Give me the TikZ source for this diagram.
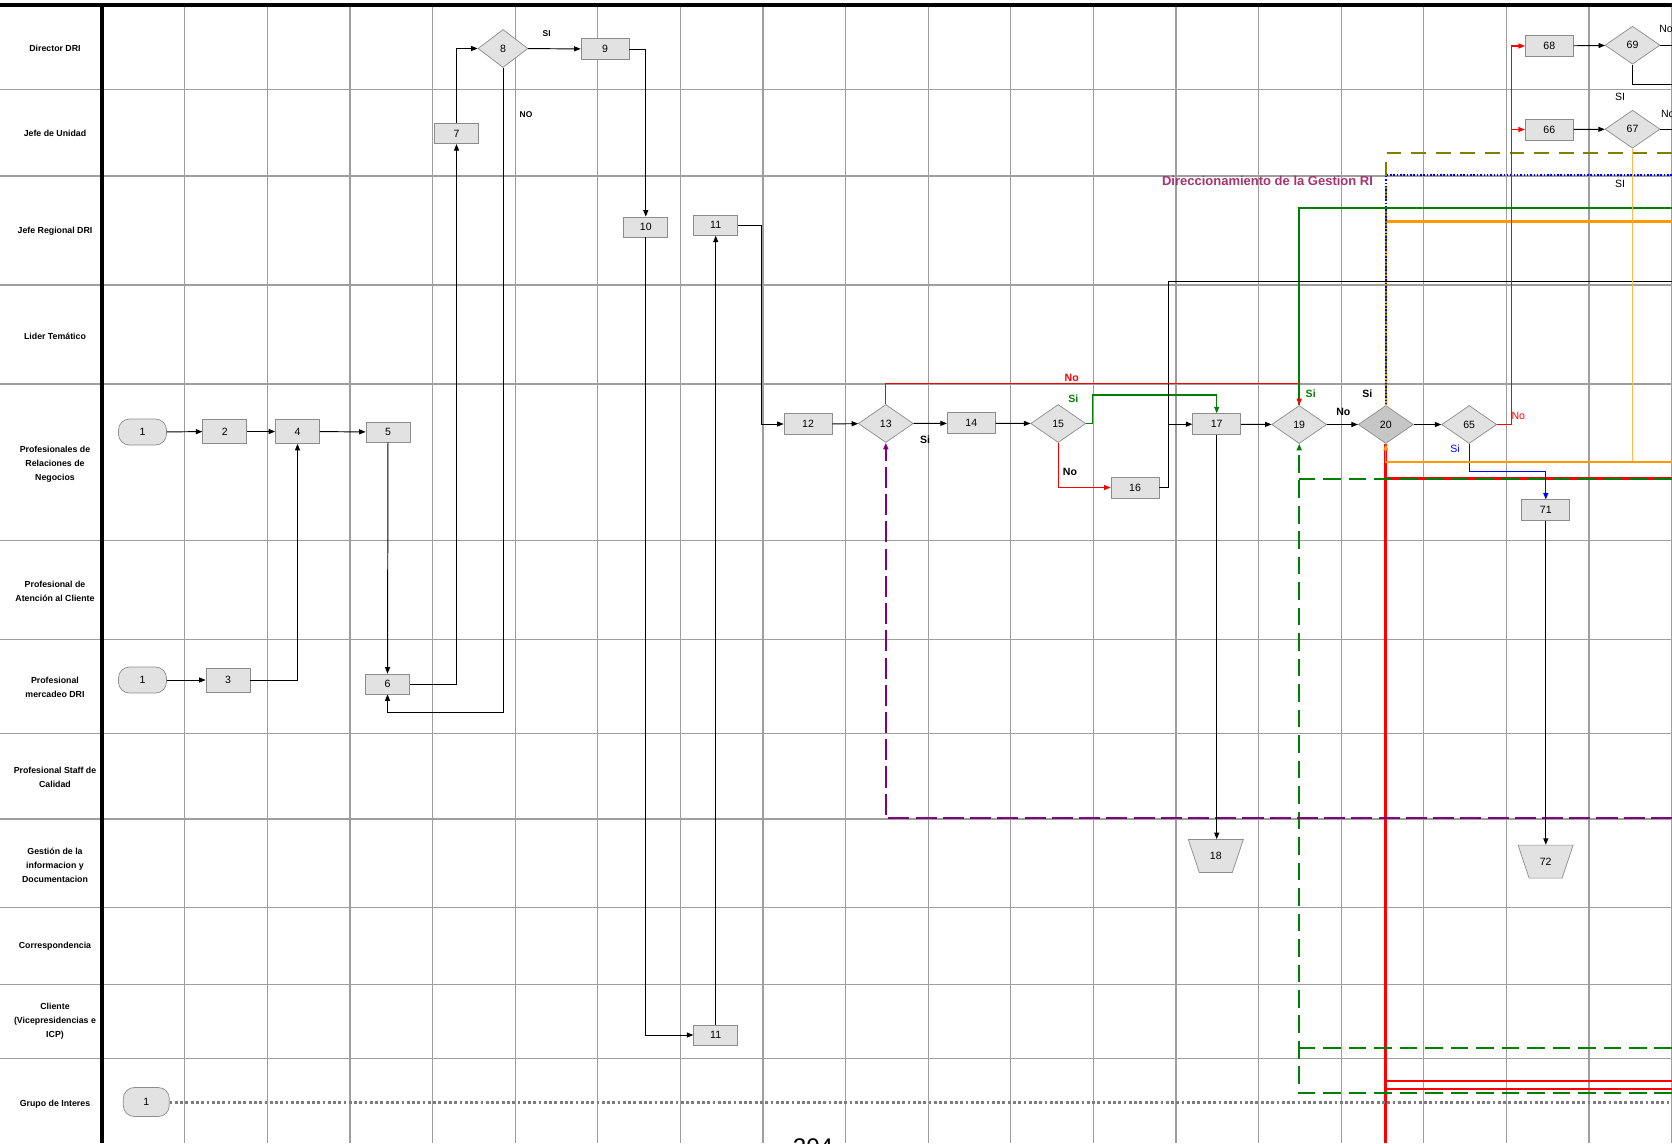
\documentclass[tikz,border=0pt]{standalone}
\usepackage{fontspec}
\setmainfont{Liberation Sans}
\usetikzlibrary{arrows.meta,shapes.geometric,calc}
\definecolor{cajagris}{RGB}{226,226,226}
\definecolor{bordegris}{RGB}{140,140,140}
\definecolor{grisrejilla}{RGB}{158,158,158}
\definecolor{decisionoscura}{RGB}{198,198,198}
\definecolor{tituloRI}{RGB}{168,50,110}
\definecolor{oliva}{RGB}{128,128,0}
\definecolor{naranja}{RGB}{255,153,0}
\definecolor{naranjaclaro}{RGB}{255,184,77}
\definecolor{verdeflujo}{RGB}{0,128,0}
\definecolor{morado}{RGB}{128,0,128}
\definecolor{grispuntos}{RGB}{125,125,125}
\tikzset{carril/.style={font=\fontsize{5}{7.9}\selectfont\bfseries,align=center,inner sep=0pt},
  caja/.style={rectangle,draw=bordegris,fill=cajagris,minimum width=0.88cm,minimum height=0.4cm,inner sep=0pt,font=\fontsize{6}{7}\selectfont},
  cajaancha/.style={caja,minimum width=0.96cm,minimum height=0.42cm},
  decision/.style={diamond,draw=bordegris,fill=cajagris,minimum width=1.1cm,minimum height=0.76cm,inner sep=0pt,font=\fontsize{6}{7}\selectfont},
  inicio/.style={rectangle,rounded corners=0.22cm,draw=bordegris,fill=cajagris,minimum width=0.96cm,minimum height=0.52cm,inner sep=0pt,font=\fontsize{6}{7}\selectfont},
  archivo/.style={rectangle,minimum width=1.1cm,minimum height=0.66cm,inner sep=0pt,font=\fontsize{6}{7}\selectfont},
  archivoforma/.style={draw=bordegris,fill=cajagris},
  rejilla/.style={draw=grisrejilla,line width=0.7pt},
  punta/.style={-{Triangle[length=1.3mm,width=1mm]}},
  flujo/.style={draw=black,line width=0.55pt,punta},
  rojofino/.style={draw=red,line width=0.6pt,punta},
  verdefino/.style={draw=verdeflujo,line width=0.6pt,punta},
  azulfino/.style={draw=blue,line width=0.6pt,punta},
  naranjafino/.style={draw=naranjaclaro,line width=0.6pt},
  rojogrueso/.style={draw=red,line width=1.7pt},
  verdegrueso/.style={draw=verdeflujo,line width=1.2pt},
  naranjagrueso/.style={draw=naranja,line width=1.5pt},
  olivaguion/.style={draw=oliva,line width=1.2pt,dash pattern=on 8.5pt off 5.5pt},
  azulpuntos/.style={draw=blue,line width=0.8pt,dash pattern=on 0.9pt off 1pt},
  verdeguion/.style={draw=verdeflujo,line width=1.3pt,dash pattern=on 10pt off 4.5pt},
  moradoguion/.style={draw=morado,line width=1.2pt,dash pattern=on 12pt off 3.5pt},
  grupopuntos/.style={draw=grispuntos,line width=1.7pt,dash pattern=on 1.6pt off 1.4pt},
  etiq/.style={font=\fontsize{6}{7}\selectfont\bfseries,inner sep=0pt},
  etiqp/.style={font=\fontsize{4.8}{6}\selectfont\bfseries,inner sep=0pt},
  etiqn/.style={font=\fontsize{6}{7}\selectfont,inner sep=0pt}}

\begin{document}
\begin{tikzpicture}[x=0.02cm,y=-0.02cm]
\useasboundingbox (0,0) rectangle (1672,1143);

% carriles y columnas
\foreach \k in {1,...,19}
  \draw[rejilla] ({102.2+82.6*\k},5) -- ({102.2+82.6*\k},1143);
\foreach \y in {89.6,176,285,384,540.6,639.8,733.6,818.9,907.4,984.2,1058.8}
  \draw[rejilla] (0,\y) -- (1672,\y);
\draw[line width=2pt] (0,5) -- (1672,5);
\draw[line width=2.2pt] (102,5) -- (102,1143);

\node[carril] (lDir) at (55,48) {Director DRI};
\node[carril] (lJefe) at (55,133) {Jefe de Unidad};
\node[carril] (lReg) at (55,231) {Jefe Regional DRI};
\node[carril] (lLider) at (55,336) {Lider Temático};
\node[carril] (lProf) at (55,464) {Profesionales de\\Relaciones de\\Negocios};
\node[carril] (lAten) at (55,591) {Profesional de\\Atención al Cliente};
\node[carril] (lMerc) at (55,687) {Profesional\\mercadeo DRI};
\node[carril] (lStaff) at (55,777) {Profesional Staff de\\Calidad};
\node[carril] (lGest) at (55,865) {Gestión de la\\informacion  y\\Documentacion};
\node[carril] (lCorr) at (55,946) {Correspondencia};
\node[carril] (lCli) at (55,1021) {Cliente\\(Vicepresidencias  e\\ICP)};
\node[carril] (lGrupo) at (55,1104) {Grupo de Interes};

% puntos libres en el borde
\coordinate (bLT) at (1672,281.7);
\coordinate (b69a) at (1672,45.2);
\coordinate (b69b) at (1672,84.3);
\coordinate (b67) at (1672,129.2);
\coordinate (bNar) at (1672,462);
\coordinate (bOl) at (1672,152.7);
\coordinate (bAz) at (1672,175);
\coordinate (bVe) at (1672,208.3);
\coordinate (bNa) at (1672,221.7);
\coordinate (bG1) at (1672,478.7);
\coordinate (bG2) at (1672,1048.3);
\coordinate (bG3) at (1672,1093.3);
\coordinate (bR2) at (1672,1081);
\coordinate (bR3) at (1672,1089.3);
\coordinate (bMo) at (1672,818.3);
\coordinate (bGr) at (1672,1102);
\coordinate (c18) at (1215.8,856);
\coordinate (c72) at (1545.6,861.6);

% actividades
\node[inicio] (i1) at (142.5,432) {1};
\node[inicio] (i2) at (142.5,680) {1};
\node[inicio,minimum width=0.92cm,minimum height=0.58cm] (i3) at (146.3,1102) {1};
\node[caja,minimum height=0.48cm] (n2) at (224.7,431.5) {2};
\node[caja,minimum height=0.48cm] (n3) at (228,680) {3};
\node[caja,minimum height=0.48cm] (n4) at (297.5,431.5) {4};
\node[caja] (n5) at (388,432) {5};
\node[caja] (n6) at (387.5,684) {6};
\node[caja] (n7) at (456.5,133.7) {7};
\node[decision,minimum width=1cm] (n8) at (503,48.5) {8};
\node[cajaancha] (n9) at (605,49) {9};
\node[caja] (n10) at (645.8,227) {10};
\node[caja] (n11) at (715.7,225.3) {11};
\node[caja] (n11b) at (715.7,1035) {11};
\node[cajaancha] (n12) at (808,424) {12};
\node[decision] (n13) at (885.8,423.5) {13};
\node[cajaancha] (n14) at (971.3,423.3) {14};
\node[decision] (n15) at (1058.2,423.5) {15};
\node[cajaancha] (n16) at (1135,487.5) {16};
\node[cajaancha] (n17) at (1216.7,424.2) {17};
\filldraw[archivoforma] ($(c18)+(-27.5,-16.5)$) -- ($(c18)+(27.5,-16.5)$) -- ($(c18)+(16.5,16.5)$) -- ($(c18)+(-16.5,16.5)$) -- cycle;
\node[archivo] (n18) at (c18) {18};
\node[decision] (n19) at (1299.2,424.5) {19};
\node[decision,fill=decisionoscura] (n20) at (1385.8,424.5) {20};
\node[decision] (n65) at (1469.2,424.5) {65};
\node[cajaancha] (n66) at (1549.3,129.5) {66};
\node[decision] (n67) at (1632.5,129.2) {67};
\node[cajaancha] (n68) at (1549.3,46) {68};
\node[decision] (n69) at (1632.5,45.2) {69};
\node[cajaancha] (n71) at (1545.8,510.3) {71};
\filldraw[archivoforma] ($(c72)+(-27.5,-16.5)$) -- ($(c72)+(27.5,-16.5)$) -- ($(c72)+(16.5,16.5)$) -- ($(c72)+(-16.5,16.5)$) -- cycle;
\node[archivo] (n72) at (c72) {72};

% lineas gruesas de la gestion RI
\draw[rojogrueso] (n20.south) -- (n20.south |- 0,1143);
\draw[rojogrueso] (n20.south |- bG1) -- (bG1);
\draw[rojogrueso,line width=1.3pt] (n20.south |- bR2) -- (bR2);
\draw[rojogrueso,line width=1.3pt] (n20.south |- bR3) -- (bR3);
\draw[verdeguion,punta] (bG3) -| (n19.south);
\draw[verdeguion] (bG1) -- (bG1 -| n19.south);
\draw[verdeguion] (bG2) -- (bG2 -| n19.south);
\draw[naranjagrueso] (bNa) -| (n20.north);
\draw[olivaguion] (bOl) -| (n20.north);
\draw[azulpuntos] (bAz) -| (n20.north);
\draw[verdegrueso] (bVe) -| (n19.north);
\draw[moradoguion,punta] (bMo) -| (n13.south);
\draw[grupopuntos] (i3) -- (bGr);

% conectores
\draw[flujo] (i1) -- (n2);
\draw[flujo] (n2) -- (n4);
\draw[flujo] (n4) -- (n5);
\draw[flujo] (i2) -- (n3);
\draw[flujo] (n3) -| (n4);
\draw[flujo] (n5) -- (n6);
\draw[flujo] (n6) -| (n7);
\draw[flujo] (n7) |- (n8);
\draw[flujo] (n8) -- (n9);
\draw[flujo] (n8.south) -- (n8.south |- 0,712) -| (n6.south);
\draw[flujo] (n9) -| (n10);
\draw[flujo] (n10) |- (n11b);
\draw[flujo] (n11b) -- (n11);
\draw[flujo] (n11.east) -- ++(23.7,0) |- (n12);
\draw[flujo] (n12) -- (n13);
\draw[flujo] (n13) -- (n14);
\draw[flujo] (n14) -- (n15);
\draw[verdefino] (n15.east) -- ++(6.6,0) |- (n17.north |- 0,395) -- (n17.north);
\draw[rojofino] (n15.south) |- (n16);
\draw[flujo] (n16.east) -- ++(9,0) |- (n17);
\draw[draw=black,line width=0.55pt] (bLT) -| ($(n16.east)+(9,0)$);
\draw[flujo] (n17) -- (n19);
\draw[flujo] (n17.south) -- (n17.south |- n18.north);
\draw[rojofino] (n13.north) -- ++(0,-20.5) -| (n19.north);
\draw[flujo] (n19) -- (n20);
\draw[flujo] (n20) -- (n65);
\draw[rojofino] (n65.east) -- ++(14,0) |- (n68);
\draw[rojofino] (n65.east) -- ++(14,0) |- (n66);
\draw[azulfino] (n65.south) -- ++(0,28) -| (n71.north);
\draw[flujo] (n71) -- (n72.north -| n71);
\draw[flujo] (n68) -- (n69);
\draw[flujo] (n66) -- (n67);
\draw[draw=black,line width=0.55pt] (n69.east) -- (b69a);
\draw[draw=black,line width=0.55pt] (n69.south) |- (b69b);
\draw[draw=black,line width=0.55pt] (n67.east) -- (b67);
\draw[naranjafino] (n67.south) -- (n67.south |- bNar);
\draw[naranjafino,draw=naranja,punta] (bNar) -| (n20.south);

% rotulos
\node[etiqp] (sSI8) at (546.7,34) {SI};
\node[etiqp] (sNO8) at (526,115) {NO};
\node[etiq] (sSi13) at (925,439.3) {Si};
\node[etiq,text=red] (sNo13) at (1071.7,378.3) {No};
\node[etiq,text=verdeflujo] (sSi15) at (1073.3,399) {Si};
\node[etiq] (sNo15) at (1070,472.3) {No};
\node[etiq,text=verdeflujo] (sSi19) at (1310.7,393.3) {Si};
\node[etiq] (sNo19) at (1343.3,412.3) {No};
\node[etiq] (sSi20) at (1367.3,393.3) {Si};
\node[etiqn,text=red] (sNo65) at (1518.3,415.7) {No};
\node[etiqn,text=blue] (sSi65) at (1455,448.3) {Si};
\node[etiqn,anchor=west] (sNo69) at (1659,29.3) {No};
\node[etiqn,anchor=west] (sNo67) at (1660.7,114) {No};
\node[etiqn] (sSI69) at (1620,97.3) {SI};
\node[etiqn] (sSI67) at (1620,184.3) {SI};
\node[font=\fontsize{7.4}{9}\selectfont\bfseries,text=tituloRI,inner sep=0pt] (tRI) at (1267.5,181) {Direccionamiento de la Gestion RI};
\node[font=\fontsize{13.7}{15}\selectfont,inner sep=0pt] (pag) at (813,1147) {204};

\end{tikzpicture}
\end{document}
